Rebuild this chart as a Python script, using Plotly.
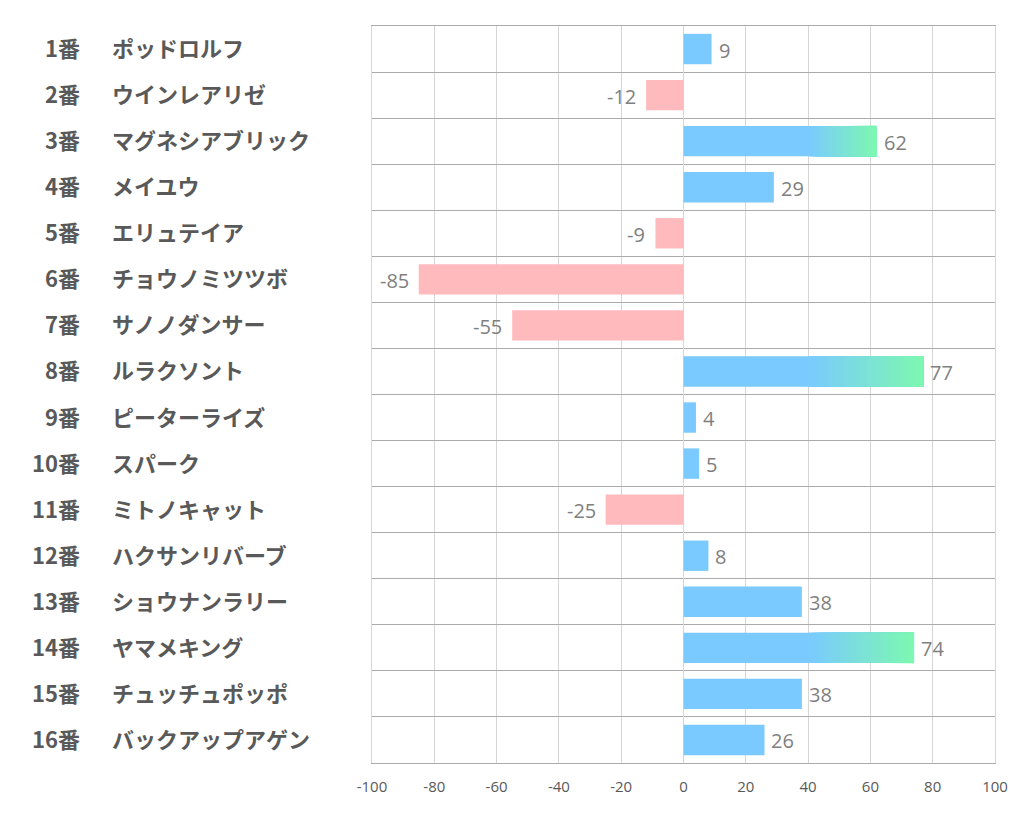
import plotly.graph_objects as go
import numpy as np

numbers = ["1番", "2番", "3番", "4番", "5番", "6番", "7番", "8番",
           "9番", "10番", "11番", "12番", "13番", "14番", "15番", "16番"]
names = ["ポッドロルフ", "ウインレアリゼ", "マグネシアブリック", "メイユウ", "エリュテイア",
         "チョウノミツツボ", "サノノダンサー", "ルラクソント", "ピーターライズ", "スパーク",
         "ミトノキャット", "ハクサンリバーブ", "ショウナンラリー", "ヤマメキング",
         "チュッチュポッポ", "バックアップアゲン"]
values = [9, -12, 62, 29, -9, -85, -55, 77, 4, 5, -25, 8, 38, 74, 38, 26]
x_ticks = [-100, -80, -60, -40, -20, 0, 20, 40, 60, 80, 100]

BLUE = (122, 202, 255)
GREEN = (125, 248, 176)
PINK = (255, 186, 190)
GRAD_START = 40
N_SEG = 40

ys, xs, bases, colors = [], [], [], []
for i, v in enumerate(values):
    if v < 0:
        ys.append(i); xs.append(v); bases.append(0)
        colors.append("rgb(%d,%d,%d)" % PINK)
    elif v <= GRAD_START:
        ys.append(i); xs.append(v); bases.append(0)
        colors.append("rgb(%d,%d,%d)" % BLUE)
    else:
        ys.append(i); xs.append(v); bases.append(0)
        colors.append("rgb(%d,%d,%d)" % BLUE)
        edges = np.linspace(GRAD_START, v, N_SEG + 1)
        for k in range(N_SEG):
            t = (k + 0.5) / N_SEG
            c = tuple(int(round(BLUE[j] + (GREEN[j] - BLUE[j]) * t)) for j in range(3))
            # each segment runs to the bar end; later ones paint over earlier ones
            ys.append(i); xs.append(v - edges[k]); bases.append(edges[k])
            colors.append("rgb(%d,%d,%d)" % c)

fig = go.Figure()
fig.add_trace(go.Bar(
    y=ys, x=xs, base=bases, orientation="h",
    marker=dict(color=colors, line=dict(width=0)),
    width=0.66, hoverinfo="skip", showlegend=False,
))

annotations = []
for i, v in enumerate(values):
    annotations.append(dict(
        x=v, y=i, xref="x", yref="y", text=str(v),
        xanchor="left" if v >= 0 else "right", yanchor="middle",
        xshift=5 if v >= 0 else -8, yshift=-1, showarrow=False,
        font=dict(family="Open Sans, Noto Sans, sans-serif", size=20, color="#7f7f7f"),
    ))
for i, (n, nm) in enumerate(zip(numbers, names)):
    annotations.append(dict(
        x=-0.4655, y=i, xref="paper", yref="y", text="<b>%s</b>" % n,
        xanchor="right", yanchor="middle", yshift=2, showarrow=False,
        font=dict(family="Noto Sans CJK JP", size=22, color="#595959"),
    ))
    annotations.append(dict(
        x=-0.4205, y=i, xref="paper", yref="y", text="<b>%s</b>" % nm,
        xanchor="left", yanchor="middle", yshift=2, showarrow=False,
        font=dict(family="Noto Sans CJK JP", size=22, color="#595959"),
    ))

fig.update_layout(
    width=1014, height=826,
    margin=dict(l=364, r=27, t=18, b=71),
    paper_bgcolor="white", plot_bgcolor="white",
    barmode="overlay",
    annotations=annotations,
    xaxis=dict(
        range=[-100, 100], tickvals=x_ticks, ticktext=[str(t) for t in x_ticks],
        showgrid=True, gridcolor="#d6d6d6", gridwidth=1,
        zeroline=True, zerolinecolor="#d6d6d6", zerolinewidth=1,
        tickfont=dict(family="Open Sans, sans-serif", size=15, color="#595959"),
        ticks="", ticklabelstandoff=10,
        showline=True, linecolor="#ababab", linewidth=1, mirror=True,
        fixedrange=True,
    ),
    yaxis=dict(
        range=[len(values) - 0.5, -0.5],
        tickvals=[i - 0.5 for i in range(len(values) + 1)],
        showticklabels=False, showgrid=True, gridcolor="#ababab", gridwidth=1,
        zeroline=False, ticks="",
        showline=True, linecolor="#d6d6d6", linewidth=1, mirror=True,
        fixedrange=True,
    ),
)

fig.write_html("out.html")
